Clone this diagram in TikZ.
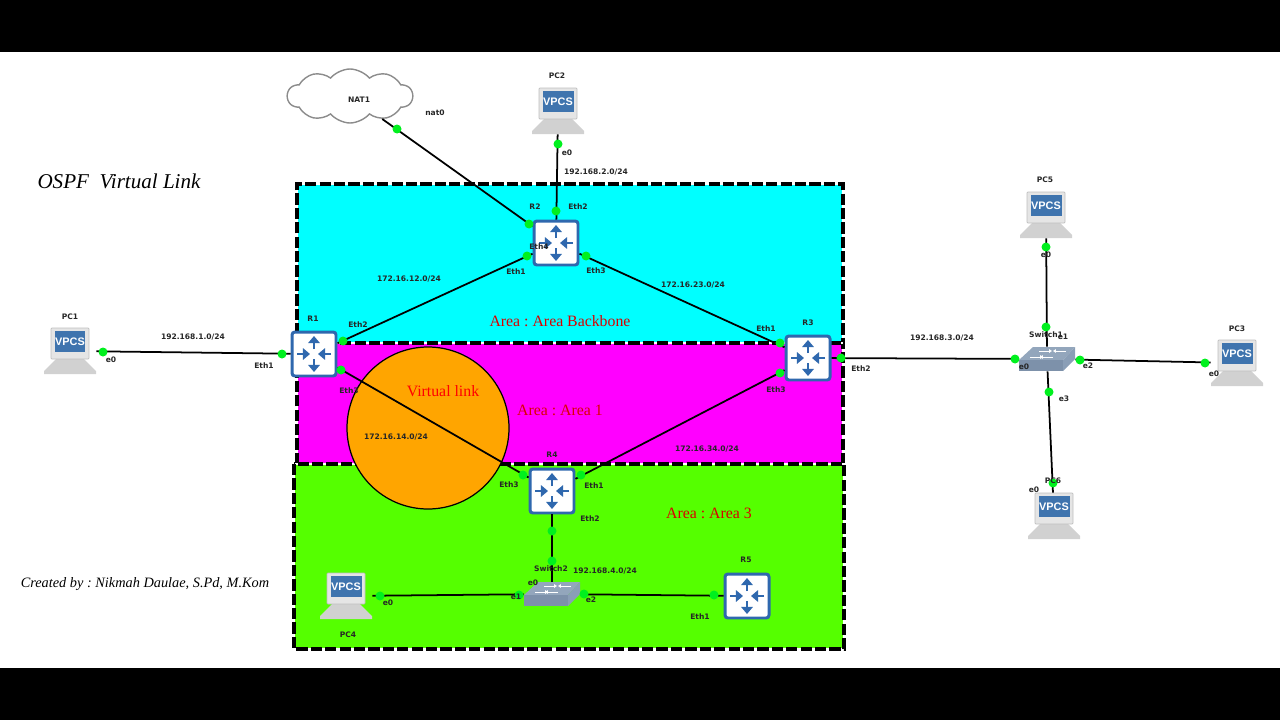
\documentclass[tikz,border=0pt]{standalone}
\usepackage{fontspec}
\setmainfont{Liberation Serif}
\newfontfamily\lblfont{DejaVu Sans}
\newfontfamily\iconfont{Liberation Sans}
\usetikzlibrary{arrows.meta,shapes.symbols}

\definecolor{areacyan}{HTML}{00FFFF}
\definecolor{areamagenta}{HTML}{FF00FF}
\definecolor{areagreen}{HTML}{55FF00}
\definecolor{portgreen}{HTML}{00F01E}
\definecolor{iconblue}{HTML}{2F68AE}
\definecolor{screenblue}{HTML}{3F74AE}
\definecolor{circleorange}{HTML}{FFA500}
\definecolor{swtop}{HTML}{93A6BC}
\definecolor{swfront}{HTML}{7D91AA}
\definecolor{swside}{HTML}{8A9EB6}

\tikzset{
    areabox/.style={line width=1.8pt, dash pattern=on 6.4pt off 1.8pt, draw=black, preaction={draw=white, solid, line width=1.2pt}},
    linkline/.style={line width=1pt, black},
    portdot/.style={circle, fill=portgreen, inner sep=0pt, minimum size=0.18cm},
    lbl/.style={font=\lblfont\bfseries\fontsize{4.3}{5}\selectfont, inner sep=0pt, text=black!85},
    arealbl/.style={font=\fontsize{9}{10}\selectfont, text=red!85!black, inner sep=0pt},
    routerbox/.style={draw=iconblue, fill=white, line width=1.7pt, rounded corners=1.6pt, minimum size=0.88cm, inner sep=0pt},
    routerarrow/.style={iconblue, line width=1.3pt, -{Triangle[length=4pt,width=6.5pt]}},
    pcbox/.style={minimum width=1.04cm, minimum height=0.92cm, inner sep=0pt},
    vpcs/.style={fill=screenblue, text=white, font=\iconfont\bfseries\fontsize{6.2}{7}\selectfont, minimum width=0.62cm, minimum height=0.42cm, inner sep=0pt},
    swbox/.style={minimum width=1.12cm, minimum height=0.48cm, inner sep=0pt},
    swarrow/.style={white, line width=0.5pt, -{Triangle[length=1.6pt,width=2pt]}},
}

\begin{document}
\frenchspacing
\begin{tikzpicture}[x=0.02cm, y=-0.02cm]
    \useasboundingbox (0,0) rectangle (1280,720);

    % Bandes
    \fill[black] (0,0) rectangle (1280,52);
    \fill[black] (0,668) rectangle (1280,720);

    % Zones
    \fill[areacyan] (297,184) rectangle (843,343);
    \fill[areamagenta] (297,343) rectangle (843,464);
    \fill[areagreen] (294,464) rectangle (844,649);
    \draw[areabox] (297,464) -- (297,184) -- (843,184) -- (843,464);
    \draw[areabox] (297,343) -- (843,343);
    \draw[areabox] (294,464) rectangle (844,649);

    % Lien virtuel
    \filldraw[fill=circleorange, draw=black, line width=0.7pt] (428,428) circle (81);

    % Routeurs
    \foreach \n/\x/\y in {R1/314/354, R2/556/243, R3/808/358, R4/552/491, R5/747/596}{
        \node[routerbox] (\n) at (\x,\y) {};
        \begin{scope}[shift={(\x,\y)}]
            \draw[routerarrow] (-17,0) -- (-4,0);
            \draw[routerarrow] (17,0) -- (4,0);
            \draw[routerarrow] (0,-5) -- (0,-18);
            \draw[routerarrow] (0,5) -- (0,18);
        \end{scope}
    }

    % Postes
    \foreach \n/\x/\y in {PC1/70/351, PC2/558/111, PC3/1237/363, PC4/346/596, PC5/1046/215, PC6/1054/516}{
        \node[pcbox] (\n) at (\x,\y) {};
        \begin{scope}[shift={(\x,\y)}]
            \fill[black!18] (-14,8) -- (14,8) -- (26,20) -- (26,23) -- (-26,23) -- (-26,20) -- cycle;
            \filldraw[fill=black!10, draw=black!25, rounded corners=0.5pt] (-19,-23) rectangle (19,8);
            \node[vpcs] (\n-screen) at (0,-9.5) {VPCS};
        \end{scope}
    }

    % Commutateurs
    \foreach \n/\x/\y in {Switch1/1047/359, Switch2/552/594}{
        \node[swbox] (\n) at (\x,\y) {};
        \begin{scope}[shift={(\x,\y)}]
            \fill[swtop] (-28,1) -- (-14,-12) -- (28,-12) -- (16,1) -- cycle;
            \fill[swfront] (-28,1) -- (16,1) -- (16,12) -- (-28,12) -- cycle;
            \fill[swside] (16,1) -- (28,-12) -- (28,0) -- (16,12) -- cycle;
            \draw[swarrow] (-17,-2) -- (-4,-2);
            \draw[swarrow] (6,-2) -- (-7,-2);
            \draw[swarrow] (-8,-8) -- (5,-8);
            \draw[swarrow] (19,-8) -- (6,-8);
        \end{scope}
    }

    % Nuage
    \node[cloud, cloud puffs=10, cloud puff arc=100, aspect=2.4, draw=black!45, fill=white, line width=0.8pt, minimum width=2.5cm, minimum height=1.08cm, inner sep=0pt] (NAT1) at (350,96) {};

    % Liens
    \foreach \a/\b in {PC1/R1, R1/R2, R1/R4, R2/R3, R2/NAT1, R2/PC2, R3/R4, R3/Switch1, R4/Switch2, Switch2/PC4, Switch2/R5, Switch1/PC5, Switch1/PC3, Switch1/PC6}
        \draw[linkline] (\a) -- (\b);

    % Ports
    \foreach \x/\y [count=\i] in {103/352, 282/354, 343/341, 527/256, 341/370, 523/475, 581/475, 780/373, 586/256, 780/343, 841/358, 1015/359, 397/129, 529/224, 556/211, 558/144, 552/531, 552/561, 380/596, 519/595, 584/594, 714/595, 1046/247, 1046/327, 1080/360, 1205/363, 1049/392, 1053/483}
        \node[portdot] (port\i) at (\x,\y) {};

    % Etiquettes
    \foreach \x/\y/\t [count=\i] in {
        70/317/PC1, 111/360/e0, 193/337/{192.168.1.0/24}, 264/366/Eth1, 313/319/R1, 358/325/Eth2, 349/391/Eth3,
        409/279/{172.16.12.0/24}, 535/207/R2, 578/207/Eth2, 539/247/Eth4, 516/272/Eth1, 596/271/Eth3,
        359/100/NAT1, 435/113/nat0, 557/76/PC2, 567/153/e0, 596/172/{192.168.2.0/24}, 693/285/{172.16.23.0/24},
        766/329/Eth1, 808/323/R3, 861/369/Eth2, 776/390/Eth3, 942/338/{192.168.3.0/24}, 396/437/{172.16.14.0/24},
        552/455/R4, 509/485/Eth3, 594/486/Eth1, 590/519/Eth2, 707/449/{172.16.34.0/24}, 551/569/Switch2,
        605/571/{192.168.4.0/24}, 533/583/e0, 516/597/e1, 591/600/e2, 388/603/e0, 348/635/PC4, 746/560/R5, 700/617/Eth1,
        1045/180/PC5, 1046/255/e0, 1046/335/Switch1, 1063/337/e1, 1024/367/e0, 1088/366/e2, 1237/329/PC3, 1214/374/e0,
        1064/399/e3, 1053/481/PC6, 1034/490/e0}
        \node[lbl] (lbl\i) at (\x,\y) {\t};

    % Textes
    \node[arealbl] (backbone) at (560,321) {Area : Area Backbone};
    \node[arealbl] (areaone) at (560,410) {Area : Area 1};
    \node[arealbl] (areathree) at (709,513) {Area : Area 3};
    \node[arealbl, text=red] (vlink) at (443,391) {Virtual link};
    \node[font=\itshape\fontsize{12}{14}\selectfont, inner sep=0pt] (title) at (119,181) {OSPF\ \ Virtual Link};
    \node[font=\itshape\fontsize{8.15}{10}\selectfont, inner sep=0pt] (credit) at (145,584) {Created by : Nikmah Daulae, S.Pd, M.Kom};
\end{tikzpicture}
\end{document}
